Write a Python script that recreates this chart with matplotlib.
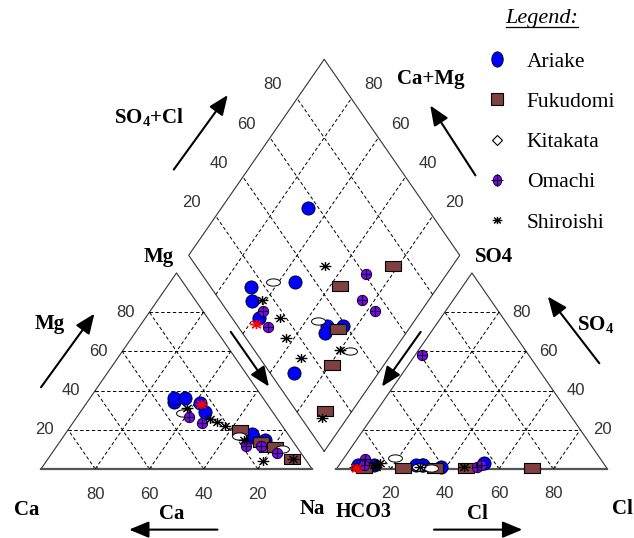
import numpy as np
import matplotlib.pyplot as plt
from matplotlib.lines import Line2D
from matplotlib.path import Path

plt.rcParams['font.family'] = ['Liberation Serif', 'DejaVu Serif']
plt.rcParams['mathtext.fontset'] = 'custom'
plt.rcParams['mathtext.rm'] = 'Liberation Serif'
plt.rcParams['mathtext.bf'] = 'Liberation Serif:bold'

# % meq per sample: cations (Mg, Na; Ca is the rest), anions (SO4, Cl; HCO3 is the rest)
ariake_mg = [34, 29, 36, 36, 33.5, 17, 15, 16.5, 18]
ariake_na = [32, 46, 31, 35, 42, 69, 75, 70, 69]
ariake_so4 = [3, 2, 2, 2, 2, 2, 1, 2, 2]
ariake_cl = [53, 30.5, 13, 9.5, 8, 31, 38, 28.5, 7]

fukudomi_mg = [11, 20, 14, 11, 5]
fukudomi_na = [78, 63.5, 74, 81, 90]
fukudomi_so4 = [0.5, 0.5, 0.5, 0.5, 0.5]
fukudomi_cl = [72, 47.5, 36, 24.5, 10]

kitakata_mg = [28.5, 17, 10]
kitakata_na = [38, 64.5, 84]
kitakata_so4 = [5.5, 1, 0.5]
kitakata_cl = [19, 30, 34.5]

omachi_mg = [11.5, 11.5, 8, 26.5, 23.5]
omachi_na = [70, 75.5, 83, 41.5, 47.5]
omachi_so4 = [58, 1, 2, 5, 2]
omachi_cl = [2.5, 51.5, 52.5, 8, 9]

shiroishi_mg = [24, 31, 25.5, 22, 15, 4, 5]
shiroishi_na = [53, 38.5, 49.5, 57, 67.5, 80, 90.5]
shiroishi_so4 = [1, 2, 3, 2, 1, 1, 1]
shiroishi_cl = [46.5, 13.5, 14.5, 13, 14, 30.5, 6.5]

# extra red point (no legend entry)
ref_mg = [33]
ref_na = [42.5]
ref_so4 = [0.5]
ref_cl = [7]

grid_vals = [20, 40, 60, 80]

S = np.sqrt(3) / 2
GAP = 9
OFF = 100 + GAP
BX, BY = 100 + GAP / 2, GAP * S


def cation_xy(mg, na):
    mg, na = np.asarray(mg, float), np.asarray(na, float)
    return na + mg / 2, mg * S


def anion_xy(so4, cl):
    so4, cl = np.asarray(so4, float), np.asarray(cl, float)
    return OFF + cl + so4 / 2, so4 * S


def diamond_xy(na, so4, cl):
    a = np.asarray(so4, float) + np.asarray(cl, float)   # SO4+Cl
    c = 100 - np.asarray(na, float)                       # Ca+Mg
    return BX + (a - c) / 2, BY + (a + c) * S


def ellipse(w, h):
    t = np.linspace(0, 2 * np.pi, 41)
    return list(zip(w * np.cos(t), h * np.sin(t)))


rect = [(-1, -0.62), (1, -0.62), (1, 0.62), (-1, 0.62), (-1, -0.62)]
star = Path([(-1, 0), (1, 0), (0, -0.75), (0, 0.75),
             (-0.7, -0.6), (0.7, 0.6), (-0.7, 0.6), (0.7, -0.6)],
            [Path.MOVETO, Path.LINETO] * 4)

styles = {
    'Ariake': dict(marker='o', ms=9.5, mfc='#0000ff', mec='k', mew=0.6),
    'Fukudomi': dict(marker=rect, ms=11.5, mfc='#804040', mec='k', mew=0.8),
    'Kitakata': dict(marker=ellipse(1, 0.52), ms=10, mfc='white', mec='k', mew=0.7),
    'Omachi': dict(marker='o', ms=7.5, mfc='#7f00ff', mec='k', mew=0.6),
    'Shiroishi': dict(marker=star, ms=8.5, mfc='none', mec='k', mew=1.0),
}
data = {
    'Ariake': (ariake_mg, ariake_na, ariake_so4, ariake_cl),
    'Fukudomi': (fukudomi_mg, fukudomi_na, fukudomi_so4, fukudomi_cl),
    'Kitakata': (kitakata_mg, kitakata_na, kitakata_so4, kitakata_cl),
    'Omachi': (omachi_mg, omachi_na, omachi_so4, omachi_cl),
    'Shiroishi': (shiroishi_mg, shiroishi_na, shiroishi_so4, shiroishi_cl),
}

fig = plt.figure(figsize=(6.34, 5.38), dpi=100)
ax = fig.add_axes([0, 0, 1, 1])
ax.set_xlim(-15.13, 218.8)
ax.set_ylim(-30.5, 207.2)
ax.axis('off')

dash = dict(color='k', lw=0.7, ls=(0, (3.5, 2.5)))
edge = dict(color='#333333', lw=0.8)

# triangles
for x0 in (0, OFF):
    ax.plot([x0, x0 + 50, x0 + 100], [0, 100 * S, 0], **edge)
    ax.plot([x0, x0 + 100], [0, 0], color='#555555', lw=1.6)
    for k in grid_vals:
        ax.plot([x0 + k / 2, x0 + 100 - k / 2], [k * S, k * S], **dash)
        ax.plot([x0 + k, x0 + k + (100 - k) / 2], [0, (100 - k) * S], **dash)
        ax.plot([x0 + k, x0 + k / 2], [0, k * S], **dash)
        ax.vlines([x0 + k - 0.5, x0 + k + 0.5], 0, 1.3, color='#555555', lw=0.8)

# diamond
ax.plot([BX, BX - 50, BX, BX + 50, BX], [BY, BY + 100 * S, BY + 200 * S, BY + 100 * S, BY], **edge)
for k in grid_vals:
    ax.plot([BX + k / 2, BX + (k - 100) / 2], [BY + k * S, BY + (k + 100) * S], **dash)
    ax.plot([BX - k / 2, BX + (100 - k) / 2], [BY + k * S, BY + (100 + k) * S], **dash)

# tick labels
tk = dict(family='Liberation Sans', fontsize=12, color='#333333', ha='center', va='center')
for k in grid_vals:
    ax.text(k / 2 - 8.8, k * S, str(k), **tk)
    ax.text(100 - k, -11.2, str(k), **tk)
    ax.text(OFF + 100 - k / 2 + 8.3, k * S, str(k), **tk)
    ax.text(OFF + k, -11.0, str(k), **tk)
    ax.text(BX + (k - 100) / 2 - 8.9, BY + (k + 100) * S + 6.0, str(k), **tk)
    ax.text(BX + (100 - k) / 2 + 8.1, BY + (k + 100) * S + 6.0, str(k), **tk)

# points
for name, (mg, na, so4, cl) in data.items():
    st = styles[name]
    for x, y in (cation_xy(mg, na), anion_xy(so4, cl), diamond_xy(na, so4, cl)):
        ax.plot(x, y, ls='none', zorder=3, **st)
        if name == 'Omachi':
            ax.plot(x, y, ls='none', marker='+', ms=7.5, mec='k', mew=0.8, zorder=3)
for x, y in (cation_xy(ref_mg, ref_na), anion_xy(ref_so4, ref_cl), diamond_xy(ref_na, ref_so4, ref_cl)):
    ax.plot(x, y, ls='none', marker=star, ms=9, mfc='none', mec='red', mew=1.3, zorder=4)

# labels
lb = dict(fontsize=15, fontweight='bold', ha='center', va='center')
ax.text(43.5, 93.7, 'Mg', **lb)
ax.text(-5.2, -18.0, 'Ca', **lb)
ax.text(100, -17.7, 'Na', **lb)
ax.text(119.0, -19.0, 'HCO3', fontsize=14.5, fontweight='bold', ha='center', va='center')
ax.text(214.4, -17.7, 'Cl', **lb)
ax.text(167.2, 93.7, 'SO4', **lb)
ax.text(3.3, 64.1, 'Mg', **lb)
ax.text(48.3, -19.9, 'Ca', **lb)
ax.text(160.9, -19.9, 'Cl', **lb)
ax.text(204.8, 63.3, r'SO$_{\mathbf{4}}$', **lb)
ax.text(39.9, 155.0, r'SO$_{\mathbf{4}}$+Cl', **lb)
ax.text(143.9, 172.1, 'Ca+Mg', **lb)

arrows = [((0.0, 36.1), (19.7, 68.6)), ((65.1, -26.8), (32.5, -26.8)),
          ((145.0, -26.8), (177.6, -26.8)), ((70.0, 60.6), (84.1, 36.4)),
          ((140.1, 60.6), (125.8, 36.4)), ((206.0, 46.7), (187.0, 76.2)),
          ((49.0, 132.3), (68.9, 165.2)), ((160.3, 129.7), (143.6, 160.6))]
for start, end in arrows:
    ax.annotate('', xy=end, xytext=start,
                arrowprops=dict(arrowstyle='-|>,head_length=0.6,head_width=0.25',
                                color='k', lw=1.5, mutation_scale=20, shrinkA=0, shrinkB=0))

# legend
handles = [
    Line2D([], [], ls='none', marker=ellipse(0.75, 1), ms=11, mfc='#0000ff', mec='k', mew=0.6),
    Line2D([], [], ls='none', marker='s', ms=8, mfc='#804040', mec='k', mew=0.8),
    Line2D([], [], ls='none', marker='D', ms=5.5, mfc='white', mec='k', mew=0.8),
    (Line2D([], [], ls='none', marker=ellipse(0.75, 1), ms=8, mfc='#7f00ff', mec='k', mew=0.6),
     Line2D([], [], ls='none', marker='+', ms=8, mec='k', mew=0.8)),
    Line2D([], [], ls='none', marker=star, ms=7, mfc='none', mec='k', mew=1.0),
]
fig.legend(handles, list(data.keys()), loc='upper left', bbox_to_anchor=(486 / 634, 1 - 51.5 / 538),
           frameon=False, fontsize=15.5, borderpad=0, borderaxespad=0, handlelength=1.0,
           handletextpad=0.9, labelspacing=0.94)

t = fig.text(542 / 634, 1 - 18 / 538, 'Legend:', fontsize=16, style='italic', ha='center', va='center')
fig.canvas.draw()
bb = t.get_window_extent()
inv = fig.transFigure.inverted()
(x0, y0), (x1, _) = inv.transform([(bb.x0, bb.y0 + 1), (bb.x1, bb.y0 + 1)])
fig.add_artist(Line2D([x0, x1], [y0, y0], color='k', lw=0.9, transform=fig.transFigure))

fig.savefig('out.png', dpi=100)
